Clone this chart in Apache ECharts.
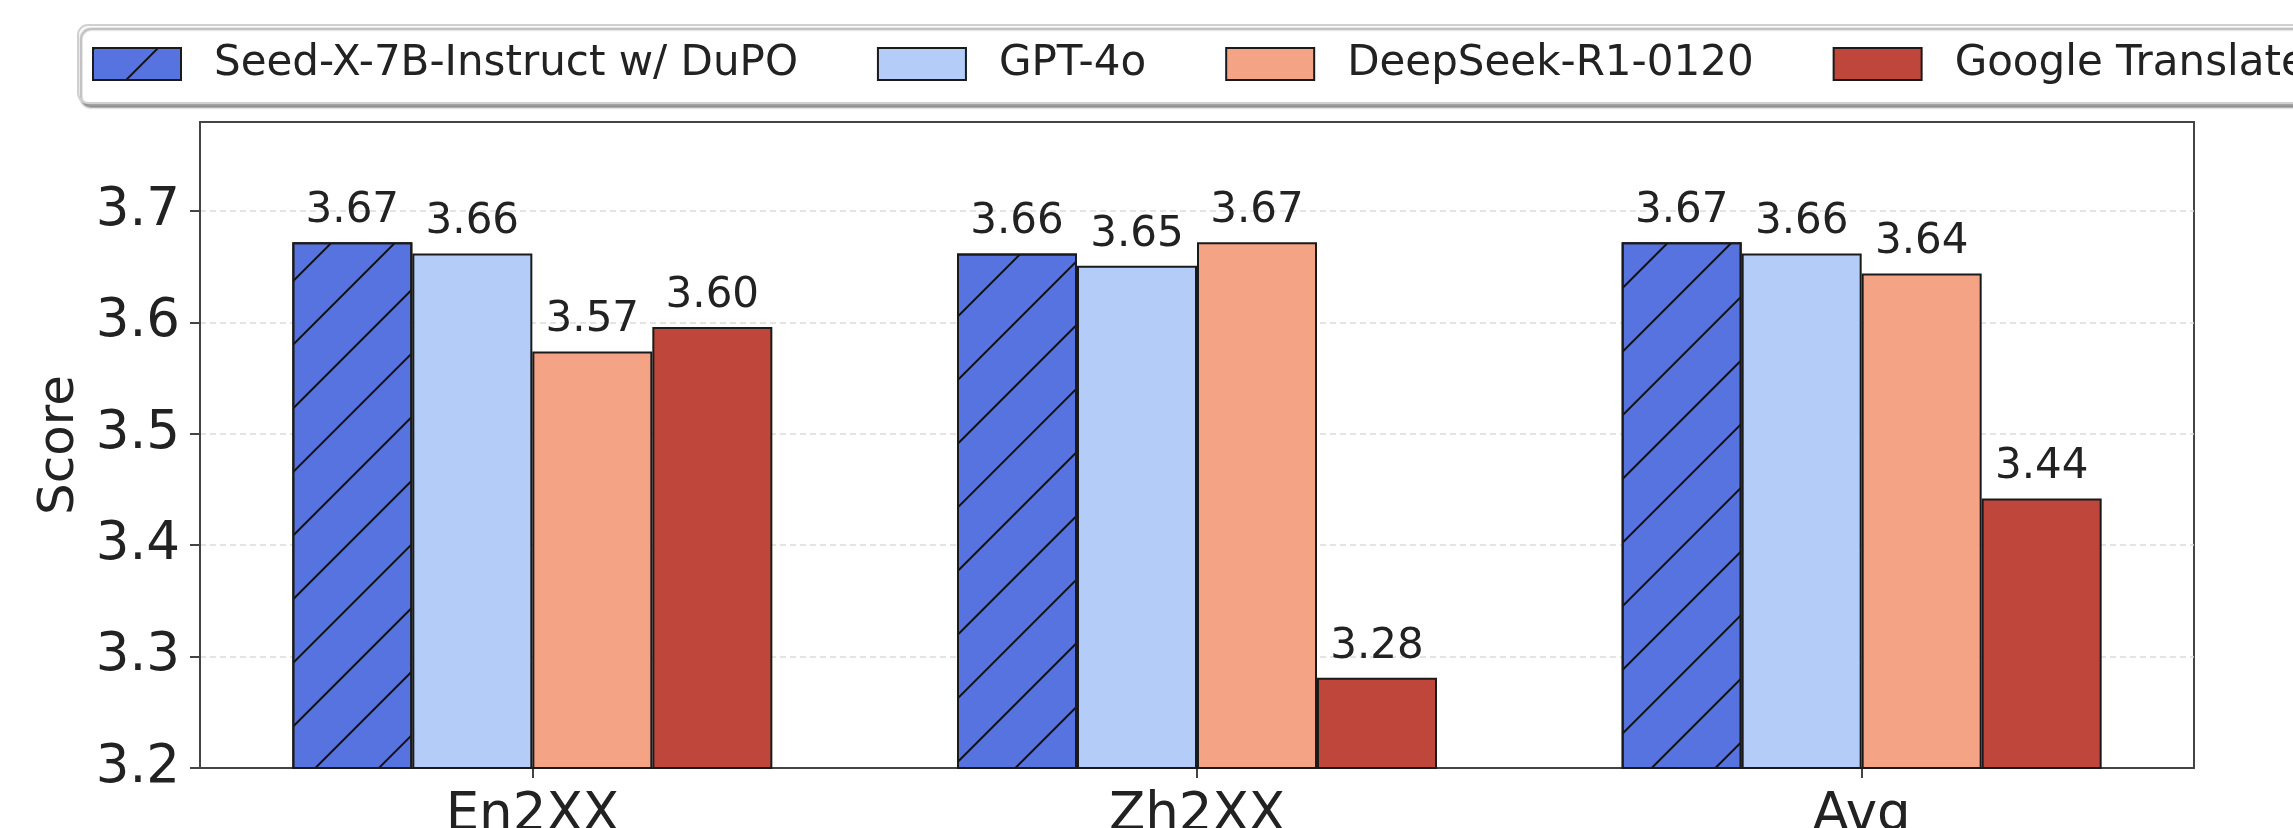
<!DOCTYPE html>
<html>
<head>
<meta charset="utf-8">
<style>
  html, body { margin: 0; padding: 0; background: #fff; }
  #chart { width: 2293px; height: 828px; }
</style>
<script src="https://cdn.jsdelivr.net/npm/echarts@6/dist/echarts.min.js"></script>
</head>
<body>
<div id="chart"></div>
<script>
// ---- data ----
const categories = ['En2XX', 'Zh2XX', 'Avg'];
const seriesNames = ['Seed-X-7B-Instruct w/ DuPO', 'GPT-4o', 'DeepSeek-R1-0120', 'Google Translate'];
const seedX = [3.672, 3.662, 3.672];
const gpt4o = [3.662, 3.651, 3.662];
const deepseek = [3.574, 3.672, 3.644];
const google = [3.596, 3.281, 3.442];
const yTicks = [3.2, 3.3, 3.4, 3.5, 3.6, 3.7];
const yMin = 3.2;
const yMax = 3.78;
const yName = 'Score';

const colors = ['#5673DF', '#B4CCF8', '#F5A385', '#BF463A'];
const FONT = 'DejaVu Sans';

const chart = echarts.init(document.getElementById('chart'), null, { renderer: 'canvas' });

function barSeries(name, data, color, hatch) {
  const s = {
    name: name,
    type: 'bar',
    data: data,
    barWidth: 120,
    barGap: '0%',
    itemStyle: {
      color: color,
      borderColor: '#1a1a1a',
      borderWidth: 2
    },
    label: {
      show: true,
      position: 'top',
      distance: 10,
      formatter: p => p.value.toFixed(2),
      fontFamily: FONT,
      fontSize: 42,
      color: '#222'
    },
    emphasis: { disabled: true }
  };
  if (hatch) {
    s.itemStyle.decal = {
      symbol: 'rect',
      symbolSize: 1,
      color: '#111',
      dashArrayX: [1, 0],
      dashArrayY: [2, 43],
      rotation: -Math.PI / 4
    };
  }
  return s;
}

const option = {
  animation: false,
  backgroundColor: '#fff',
  legend: {
    left: 78,
    top: 25,
    width: 2600,
    orient: 'horizontal',
    icon: 'rect',
    itemWidth: 88,
    itemHeight: 32,
    itemGap: 79,
    padding: [18, 14, 18, 14],
    backgroundColor: '#fff',
    borderColor: '#d0d0d0',
    borderWidth: 2,
    borderRadius: 10,
    shadowColor: 'rgba(0,0,0,0.35)',
    shadowBlur: 2,
    shadowOffsetX: 3,
    shadowOffsetY: 4,
    textStyle: {
      fontFamily: FONT,
      fontSize: 42,
      color: '#222',
      padding: [0, 0, 0, 28]
    },
    data: seriesNames
  },
  grid: {
    left: 200,
    right: 99,
    top: 122,
    bottom: 60,
    show: true,
    borderColor: '#444',
    borderWidth: 2,
    outerBoundsMode: 'none',
    containLabel: false
  },
  xAxis: {
    type: 'category',
    data: categories,
    axisLine: { show: true, lineStyle: { color: '#444', width: 2 } },
    axisTick: { show: true, alignWithLabel: true, length: 10, lineStyle: { color: '#444', width: 2 } },
    axisLabel: { fontFamily: FONT, fontSize: 53, color: '#222', margin: 22 },
    splitLine: { show: false }
  },
  yAxis: {
    type: 'value',
    min: yMin,
    max: yMax,
    interval: 0.1,
    name: yName,
    nameLocation: 'middle',
    nameRotate: 90,
    nameGap: 111,
    nameTextStyle: { fontFamily: FONT, fontSize: 50, color: '#222' },
    axisLine: { show: true, lineStyle: { color: '#444', width: 2 } },
    axisTick: { show: true, length: 10, customValues: yTicks, lineStyle: { color: '#444', width: 2 } },
    axisLabel: {
      fontFamily: FONT, fontSize: 53, color: '#222', margin: 20,
      customValues: yTicks,
      formatter: v => v.toFixed(1)
    },
    splitLine: { show: true, lineStyle: { color: '#dcdcdc', width: 1.5, type: [6, 4] } }
  },
  series: [
    barSeries(seriesNames[0], seedX, colors[0], true),
    barSeries(seriesNames[1], gpt4o, colors[1], false),
    barSeries(seriesNames[2], deepseek, colors[2], false),
    barSeries(seriesNames[3], google, colors[3], false)
  ]
};

chart.setOption(option);
</script>
</body>
</html>
